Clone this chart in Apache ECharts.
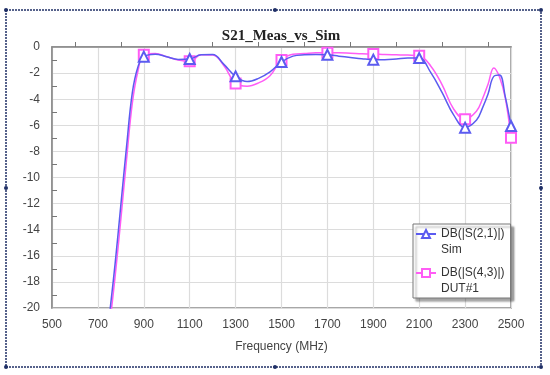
<!DOCTYPE html>
<html>
<head>
<meta charset="utf-8">
<script src="https://cdn.jsdelivr.net/npm/echarts@6/dist/echarts.min.js"></script>
<style>
  html, body { margin: 0; padding: 0; background: #fff; }
  #main { width: 550px; height: 375px; }
</style>
</head>
<body>
<div id="main"></div>
<script>
// frequency points (MHz)
var freqs = [750, 775, 800, 825, 850, 875, 900, 950, 1000, 1050, 1100, 1150, 1200, 1250,
  1300, 1350, 1400, 1450, 1500, 1550, 1600, 1650, 1700, 1750, 1800, 1850, 1900, 1950,
  2000, 2050, 2100, 2150, 2200, 2250, 2300, 2350, 2375, 2400, 2425, 2450, 2475, 2500];

// DB(|S(2,1)|) Sim
var simVals = [-20.6, -16.6, -12.1, -7.6, -3.5, -1.5, -0.74, -0.55, -0.75, -0.95, -0.92, -0.6, -0.58, -1.35,
  -2.25, -2.65, -2.4, -1.9, -1.15, -0.7, -0.6, -0.58, -0.6, -0.7, -0.8, -0.9, -0.97, -0.97,
  -0.92, -0.85, -0.85, -1.95, -3.5, -5.2, -6.18, -5.6, -4.7, -3.6, -2.25, -2.15, -3.8, -6.05];

// DB(|S(4,3)|) DUT#1
var dutVals = [-21.5, -17.6, -13.2, -8.6, -4.3, -1.8, -0.6, -0.5, -0.75, -1.0, -1.1, -0.6, -0.62, -1.45,
  -2.8, -3.0, -2.75, -2.2, -1.0, -0.55, -0.5, -0.45, -0.45, -0.45, -0.48, -0.52, -0.54, -0.58,
  -0.6, -0.62, -0.67, -1.45, -2.9, -4.75, -5.54, -4.9, -4.0, -2.85, -1.6, -2.3, -3.9, -6.95];

// frequencies that carry a marker
var markerFreqs = [900, 1100, 1300, 1500, 1700, 1900, 2100, 2300, 2500];

var simName = 'DB(|S(2,1)|)\nSim';
var dutName = 'DB(|S(4,3)|)\nDUT#1';

function pairs(vals) {
  return freqs.map(function (f, i) { return [f, vals[i]]; });
}
function markSize(v) {
  return markerFreqs.indexOf(v[0]) >= 0 ? 10 : 0;
}

// dotted selection frame round the chart
var frameColor = '#1f2f66';
var handles = [[6, 10], [275, 10], [541, 10], [6, 188], [541, 188], [6, 367], [275, 367], [541, 367]];
var graphics = [{
  type: 'rect',
  shape: { x: 6, y: 10, width: 535, height: 357 },
  style: { fill: 'none', stroke: frameColor, lineWidth: 1.5, lineDash: [2, 1] },
  silent: true
}];
handles.forEach(function (h) {
  graphics.push({
    type: 'circle',
    shape: { cx: h[0], cy: h[1], r: 2 },
    style: { fill: frameColor },
    silent: true
  });
});

var legendFont = { fontFamily: 'Liberation Sans', fontSize: 12, color: '#333', lineHeight: 16 };

var option = {
  backgroundColor: '#fff',
  animation: false,
  title: {
    text: 'S21_Meas_vs_Sim',
    left: 276,
    textAlign: 'center',
    top: 24,
    textStyle: { fontFamily: 'Liberation Serif', fontWeight: 'bold', fontSize: 15, color: '#222' }
  },
  graphic: graphics,
  grid: {
    left: 52, right: 39, top: 47, bottom: 67,
    show: true, borderColor: '#8a8a8a', borderWidth: 1.5
  },
  legend: {
    orient: 'vertical',
    left: 413,
    top: 224,
    itemWidth: 20,
    itemHeight: 10,
    itemGap: -5,
    padding: [-12, 6, 3, 2],
    backgroundColor: '#fff',
    borderColor: '#777',
    borderWidth: 1,
    borderRadius: 0,
    shadowColor: 'rgba(0,0,0,0.35)',
    shadowOffsetX: 3,
    shadowOffsetY: 3,
    shadowBlur: 2,
    // blank first line so the name's first line sits beside the icon
    formatter: function (name) {
      var parts = name.split('\n');
      return '{s| }\n{a|' + parts[0] + '}\n{a|' + parts[1] + '}';
    },
    textStyle: {
      fontFamily: 'Liberation Sans', fontSize: 12, color: '#333',
      rich: {
        s: legendFont,
        a: legendFont
      }
    },
    data: [simName, dutName]
  },
  xAxis: {
    type: 'value',
    min: 500, max: 2500, interval: 200,
    name: 'Frequency (MHz)',
    nameLocation: 'middle',
    nameGap: 33,
    nameTextStyle: { fontFamily: 'Liberation Sans', fontSize: 12, color: '#444' },
    axisLine: { show: true, lineStyle: { color: '#8a8a8a', width: 1.5 } },
    axisTick: { show: true, inside: true, length: 0 },
    minorTick: { show: true, splitNumber: 2, length: 5, lineStyle: { color: '#777' } },
    axisLabel: {
      fontFamily: 'Liberation Sans', fontSize: 12, color: '#444', margin: 11,
      formatter: function (v) { return String(v); }
    },
    splitLine: { show: true, lineStyle: { color: '#dcdcdc', width: 1.2 } }
  },
  yAxis: {
    type: 'value',
    min: -20, max: 0, interval: 2,
    axisLine: { show: true, lineStyle: { color: '#8a8a8a', width: 1.5 } },
    axisTick: { show: true, inside: true, length: 0 },
    minorTick: { show: true, splitNumber: 2, length: 5, lineStyle: { color: '#777' } },
    axisLabel: { fontFamily: 'Liberation Sans', fontSize: 12, color: '#444', margin: 12 },
    splitLine: { show: true, lineStyle: { color: '#dcdcdc', width: 1.2 } }
  },
  series: [
    {
      name: simName,
      type: 'line',
      smooth: 0.4,
      clip: true,
      symbol: 'emptyTriangle',
      symbolSize: markSize,
      color: '#5b5bf0',
      lineStyle: { width: 1.5, color: '#5b5bf0' },
      itemStyle: { color: '#5b5bf0', borderWidth: 1.2 },
      z: 3,
      data: pairs(simVals)
    },
    {
      name: dutName,
      type: 'line',
      smooth: 0.4,
      clip: true,
      symbol: 'emptyRect',
      symbolSize: markSize,
      color: '#ff5cf5',
      lineStyle: { width: 1.5, color: '#ff5cf5' },
      itemStyle: { color: '#ff5cf5', borderWidth: 1.2 },
      z: 2,
      data: pairs(dutVals)
    }
  ]
};

var chart = echarts.init(document.getElementById('main'));
chart.setOption(option);
</script>
</body>
</html>
